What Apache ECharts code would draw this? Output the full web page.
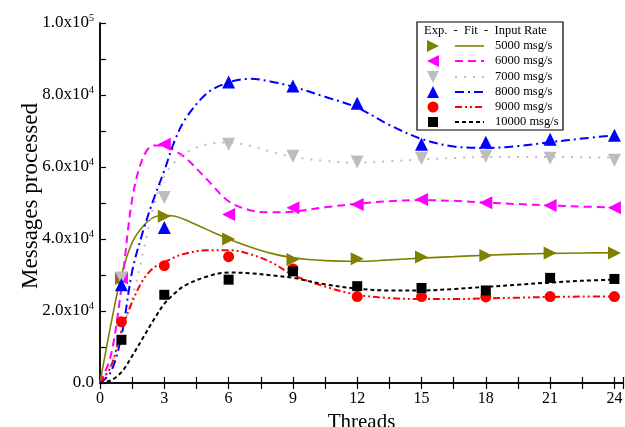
<!DOCTYPE html>
<html>
<head>
<meta charset="utf-8">
<script src="https://cdn.jsdelivr.net/npm/echarts@6/dist/echarts.min.js"></script>
<style>
  html, body { margin: 0; padding: 0; background: #fff; }
  #main { width: 625px; height: 427px; }
</style>
</head>
<body>
<div id="main"></div>
<script>
// measured points (threads on x)
var threads = [1, 3, 6, 9, 12, 15, 18, 21, 24];
var rates = ['5000 msg/s', '6000 msg/s', '7000 msg/s', '8000 msg/s', '9000 msg/s', '10000 msg/s'];

var exp5000  = [29000, 46300, 40000, 34300, 34500, 35000, 35400, 36100, 36100];
var exp6000  = [29200, 66300, 46800, 48700, 49600, 51000, 50100, 49300, 48700];
var exp7000  = [29200, 51500, 66300, 63000, 61400, 62400, 63000, 62400, 61900];
var exp8000  = [27300, 43200, 83600, 82500, 77700, 66300, 66900, 67700, 68800];
var exp9000  = [17000, 32600, 35100, 31700, 24000, 24000, 23900, 24000, 24000];
var exp10000 = [12000, 24500, 28700, 31000, 26900, 26400, 25700, 29200, 28900];

// fitted curves
var fitX = [0, 0.5, 1, 1.5, 2, 2.5, 3, 3.5, 4, 5, 6, 7, 8, 9, 10.5, 12, 13.5, 15, 16.5, 18, 19.5, 21, 22.5, 24];
var fit5000  = [0, 16000, 30000, 39000, 43500, 46000, 46600, 46300, 45300, 42600, 40000, 37800, 36000, 34800, 34000, 33800, 34200, 34700, 35100, 35500, 35800, 36000, 36100, 36200];
var fit6000  = [0, 7500, 26500, 51000, 62500, 66000, 66000, 64500, 62500, 56500, 50500, 48000, 47400, 47600, 48800, 49800, 50500, 50800, 50600, 50100, 49700, 49300, 49000, 48800];
var fit7000  = [0, 5000, 14000, 23500, 36000, 49000, 57500, 61500, 64000, 66300, 66800, 65900, 64200, 62800, 61700, 61200, 61600, 62100, 62500, 62800, 62800, 62800, 62700, 62600];
var fit8000  = [0, 3000, 13000, 31000, 42000, 51000, 59000, 67500, 73500, 80500, 83500, 84500, 83700, 82300, 79500, 76500, 71700, 67800, 65700, 65300, 65800, 66900, 67900, 68800];
var fit9000  = [0, 4500, 14500, 22500, 28500, 32000, 33500, 35000, 36000, 36900, 36900, 35800, 33500, 30000, 26800, 24500, 23600, 23300, 23300, 23500, 23700, 23900, 24000, 24000];
var fit10000 = [0, 700, 3000, 7500, 12500, 17500, 22000, 25000, 27200, 29600, 30700, 30500, 29900, 29200, 27400, 26200, 25700, 25700, 26100, 26700, 27300, 27900, 28400, 28700];

var expAll = [exp5000, exp6000, exp7000, exp8000, exp9000, exp10000];
var fitAll = [fit5000, fit6000, fit7000, fit8000, fit9000, fit10000];

var colors = ['#808000', '#ff00ff', '#bdbdbd', '#0000ff', '#ff0000', '#000000'];
var symbols = ['triangle', 'triangle', 'triangle', 'triangle', 'circle', 'rect'];
var rotates = [-90, 90, 180, 0, 0, 0];
var sizes = [13, 13, 13, 13, 11, 10];
var dashes = ['solid', [8, 5], [2, 7], [9, 4, 2, 4], [7, 3, 2, 3, 2, 3], [4, 3]];
var widths = [1.6, 2, 2, 2, 2, 2];

var FONT = 'Liberation Serif';
var TICK = 6;

function pairs(xs, ys) {
  return xs.map(function (x, i) { return [x, ys[i]]; });
}

var series = [];
for (var i = 0; i < rates.length; i++) {
  series.push({
    name: rates[i] + ' fit',
    type: 'line',
    data: pairs(fitX, fitAll[i]),
    smooth: 0.35,
    showSymbol: false,
    symbol: 'none',
    silent: true,
    z: 2,
    lineStyle: { color: colors[i], width: widths[i], type: dashes[i] }
  });
}
for (var i = 0; i < rates.length; i++) {
  series.push({
    name: rates[i],
    type: 'scatter',
    data: pairs(threads, expAll[i]),
    symbol: symbols[i],
    symbolRotate: rotates[i],
    symbolSize: sizes[i],
    z: 5,
    itemStyle: { color: colors[i], opacity: 1 }
  });
}

function sci(v) {
  if (v === 0) return '0.0';
  var e = Math.floor(Math.log10(v) + 1e-9);
  var m = (v / Math.pow(10, e)).toFixed(1);
  return m + 'x10{sup|' + e + '}';
}

// legend drawn by hand
var legX = 417, legY = 22, legW = 146, legH = 108;
var rowY = [46, 61, 77, 92, 107, 122];
var graphics = [{
  type: 'rect',
  shape: { x: legX, y: legY, width: legW, height: legH },
  style: { fill: '#fff', stroke: '#000', lineWidth: 1.2 },
  z: 100
}, {
  type: 'text',
  x: 424, y: 31,
  style: { text: 'Exp.  -  Fit  -  Input Rate', font: '12.5px "Liberation Serif"', fill: '#000', textVerticalAlign: 'middle' },
  z: 101
}];
function markerShape(i, cx, cy) {
  var s = 6;
  if (i === 0) return { type: 'polygon', shape: { points: [[cx - s, cy - s], [cx + s, cy], [cx - s, cy + s]] } };
  if (i === 1) return { type: 'polygon', shape: { points: [[cx + s, cy - s], [cx - s, cy], [cx + s, cy + s]] } };
  if (i === 2) return { type: 'polygon', shape: { points: [[cx - s, cy - s], [cx + s, cy - s], [cx, cy + s]] } };
  if (i === 3) return { type: 'polygon', shape: { points: [[cx - s, cy + s], [cx + s, cy + s], [cx, cy - s]] } };
  if (i === 4) return { type: 'circle', shape: { cx: cx, cy: cy, r: 5.5 } };
  return { type: 'rect', shape: { x: cx - 5, y: cy - 5, width: 10, height: 10 } };
}
for (var i = 0; i < rates.length; i++) {
  var mk = markerShape(i, 433, rowY[i]);
  mk.style = { fill: colors[i] };
  mk.z = 101;
  graphics.push(mk);
  graphics.push({
    type: 'line',
    shape: { x1: 455, y1: rowY[i], x2: 484, y2: rowY[i] },
    style: { stroke: colors[i], lineWidth: widths[i], lineDash: dashes[i] === 'solid' ? null : dashes[i] },
    z: 101
  });
  graphics.push({
    type: 'text',
    x: 495, y: rowY[i],
    style: { text: rates[i], font: '12.5px "Liberation Serif"', fill: '#000', textVerticalAlign: 'middle' },
    z: 101
  });
}

var chart = echarts.init(document.getElementById('main'), null, { renderer: 'canvas' });
chart.setOption({
  animation: false,
  backgroundColor: '#fff',
  grid: { left: 100, right: 2, top: 23, bottom: 44, outerBoundsMode: 'none', containLabel: false },
  xAxis: [{
    type: 'value',
    min: 0, max: 24.4, interval: 3,
    name: 'Threads',
    nameLocation: 'middle',
    nameGap: 29,
    nameTextStyle: { fontFamily: FONT, fontSize: 21, color: '#000', verticalAlign: 'top' },
    axisLine: { show: true, lineStyle: { color: '#000', width: 1.5 } },
    axisTick: { show: true, inside: true, length: TICK, lineStyle: { color: '#000', width: 1.2 } },
    minorTick: { show: true, splitNumber: 2, length: TICK, lineStyle: { color: '#000', width: 1.2 } },
    splitLine: { show: false },
    axisLabel: {
      fontFamily: FONT, fontSize: 16, color: '#000', margin: 8,
      formatter: function (v) { return v % 3 === 0 ? String(v) : ''; }
    }
  }, {
    type: 'value',
    position: 'top',
    min: 0, max: 24.4, interval: 3,
    axisLine: { show: true, lineStyle: { color: '#000', width: 1.5 } },
    axisTick: { show: true, inside: true, length: TICK, lineStyle: { color: '#000', width: 1.2 } },
    minorTick: { show: true, splitNumber: 2, length: TICK, lineStyle: { color: '#000', width: 1.2 } },
    splitLine: { show: false },
    axisLabel: { show: false }
  }],
  yAxis: [{
    type: 'value',
    min: 0, max: 100000, interval: 20000,
    name: 'Messages processed',
    nameLocation: 'middle',
    nameGap: 58,
    nameMoveOverlap: false,
    nameTextStyle: { fontFamily: FONT, fontSize: 23, color: '#000', padding: [0, 0, 0, 14] },
    axisLine: { show: true, lineStyle: { color: '#000', width: 1.5 } },
    axisTick: { show: true, inside: true, length: TICK, lineStyle: { color: '#000', width: 1.2 } },
    minorTick: { show: true, splitNumber: 2, length: TICK, lineStyle: { color: '#000', width: 1.2 } },
    splitLine: { show: false },
    axisLabel: {
      fontFamily: FONT, fontSize: 17, color: '#000', margin: 6,
      formatter: sci,
      rich: {
        sup: { fontFamily: FONT, fontSize: 10, color: '#000', verticalAlign: 'top', padding: [0, 0, 9, 0] }
      }
    }
  }, {
    type: 'value',
    position: 'right',
    min: 0, max: 100000,
    axisLine: { show: true, lineStyle: { color: '#000', width: 1.5 } },
    axisTick: { show: false },
    splitLine: { show: false },
    axisLabel: { show: false }
  }],
  series: series,
  graphic: graphics
});
</script>
</body>
</html>
